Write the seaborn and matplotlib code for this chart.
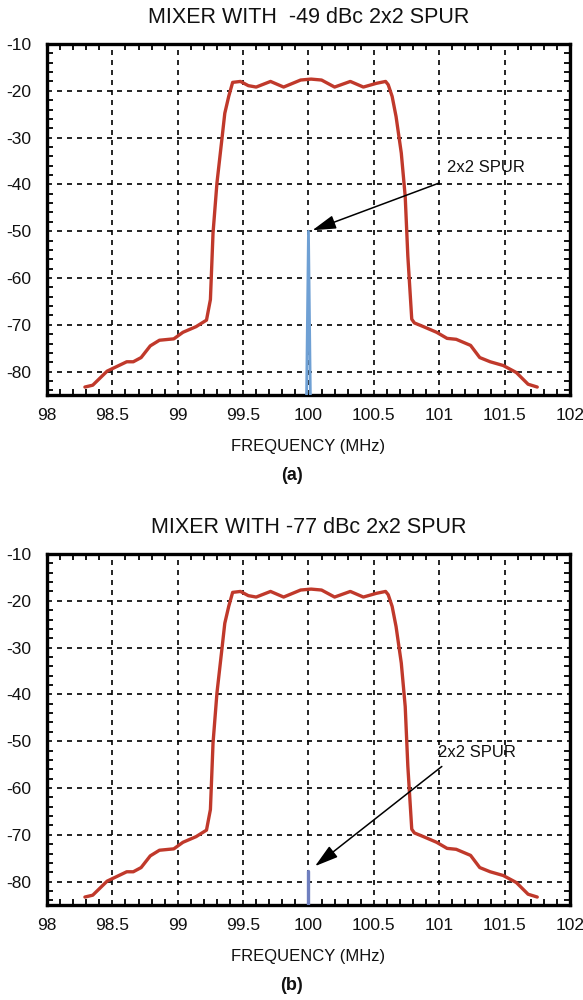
import numpy as np
import pandas as pd
import matplotlib
matplotlib.use("Agg")
import matplotlib.pyplot as plt
import seaborn as sns
from matplotlib.ticker import MultipleLocator

# ---- data ----
freq = [98.29, 98.35, 98.46, 98.61, 98.66, 98.72, 98.79, 98.86, 98.97, 99.04,
        99.14, 99.22, 99.25, 99.27, 99.30, 99.34, 99.36, 99.39, 99.42, 99.48,
        99.54, 99.60, 99.71, 99.81, 99.94, 100.02, 100.10, 100.20, 100.32, 100.42,
        100.52, 100.59, 100.61, 100.64, 100.67, 100.71, 100.74, 100.76, 100.79, 100.81,
        100.88, 100.98, 101.06, 101.13, 101.24, 101.31, 101.39, 101.49, 101.59, 101.68,
        101.75]
level = [-83.3, -82.9, -79.9, -77.9, -77.9, -77.0, -74.5, -73.3, -73.0, -71.6,
         -70.4, -69.0, -64.6, -50.4, -39.7, -29.8, -24.8, -21.2, -18.2, -18.0,
         -18.9, -19.2, -18.0, -19.2, -17.7, -17.5, -17.7, -19.2, -18.0, -19.2,
         -18.4, -18.0, -18.7, -21.2, -25.5, -33.3, -42.6, -55.3, -68.8, -69.6,
         -70.4, -71.6, -72.9, -73.1, -74.4, -77.0, -77.9, -78.7, -80.2, -82.7,
         -83.3]

spur_a_x = [99.985, 100.0, 100.015]
spur_a_y = [-86.0, -50.0, -86.0]
spur_b_x = [100.0, 100.0]
spur_b_y = [-86.0, -77.7]

titles = ["MIXER WITH  -49 dBc 2x2 SPUR", "MIXER WITH -77 dBc 2x2 SPUR"]
panel_labels = ["(a)", "(b)"]
xticks = [98, 98.5, 99, 99.5, 100, 100.5, 101, 101.5, 102]
xtick_labels = ["98", "98.5", "99", "99.5", "100", "100.5", "101", "101.5", "102"]
yticks = [-10, -20, -30, -40, -50, -60, -70, -80]
ytick_labels = ["-10", "-20", "-30", "-40", "-50", "-60", "-70", "-80"]
ann_text_xy = [(101.36, -36.3), (101.29, -52.5)]
ann_tip_xy = [(100.03, -49.8), (100.05, -76.7)]
ann_tail_xy = [(101.0, -39.7), (101.02, -55.4)]

sns.set_theme(style="white")
plt.rcParams["font.family"] = ["Liberation Sans", "DejaVu Sans"]
plt.rcParams["axes.unicode_minus"] = False

curve = pd.DataFrame({"freq": freq, "level": level})

fig = plt.figure(figsize=(5.83, 10), dpi=100)
ax_a = fig.add_axes([0.0806, 0.605, 0.897, 0.351])
ax_b = fig.add_axes([0.0806, 0.095, 0.897, 0.351])

spurs = [(spur_a_x, spur_a_y, "#6fa0d4", 2.0), (spur_b_x, spur_b_y, "#6f7fbf", 2.4)]

for i, ax in enumerate([ax_a, ax_b]):
    sx, sy, scol, slw = spurs[i]
    spur_df = pd.DataFrame({"x": sx, "y": sy})
    sns.lineplot(data=spur_df, x="x", y="y", ax=ax, sort=False, color=scol,
                 linewidth=slw, estimator=None, zorder=3)
    sns.lineplot(data=curve, x="freq", y="level", ax=ax, sort=False,
                 color="#c0392b", linewidth=2.4, estimator=None, zorder=4,
                 solid_joinstyle="round", solid_capstyle="round")
    ax.set_xlim(98, 102)
    ax.set_ylim(-85, -10)
    ax.set_xticks(xticks)
    ax.set_xticklabels(xtick_labels)
    ax.set_yticks(yticks)
    ax.set_yticklabels(ytick_labels)
    ax.xaxis.set_minor_locator(MultipleLocator(0.1))
    ax.yaxis.set_minor_locator(MultipleLocator(2))
    ax.tick_params(axis="both", which="major", direction="in", length=0,
                   labelsize=12.5, colors="#111111", top=True, right=True)
    ax.tick_params(axis="x", which="major", pad=9)
    ax.tick_params(axis="y", which="major", pad=11)
    ax.tick_params(axis="both", which="minor", direction="in", length=4,
                   width=1.3, color="black", top=True, right=True,
                   bottom=True, left=True)
    ax.grid(True, which="major", color="black", linestyle=(0, (3, 3)),
            linewidth=1.2)
    for s in ax.spines.values():
        s.set_visible(True)
        s.set_color("black")
        s.set_linewidth(2.4)
    ax.set_xlabel("FREQUENCY (MHz)", fontsize=12, color="#111111", labelpad=12)
    ax.set_ylabel("")
    ax.set_title(titles[i], fontsize=15.5, color="#111111", pad=15)
    ax.annotate("", xy=ann_tip_xy[i], xytext=ann_tail_xy[i],
                arrowprops=dict(arrowstyle="-|>,head_length=1.2,head_width=0.35",
                                color="black", lw=1.1, shrinkA=0, shrinkB=0),
                zorder=6)
    ax.text(ann_text_xy[i][0], ann_text_xy[i][1], "2x2 SPUR", fontsize=12,
            ha="center", va="center", color="#111111", zorder=6)

fig.text(0.5, 0.524, panel_labels[0], ha="center", va="center",
         fontsize=13, fontweight="bold", color="#111111")
fig.text(0.5, 0.014, panel_labels[1], ha="center", va="center",
         fontsize=13, fontweight="bold", color="#111111")

fig.savefig("out.png", dpi=100)
